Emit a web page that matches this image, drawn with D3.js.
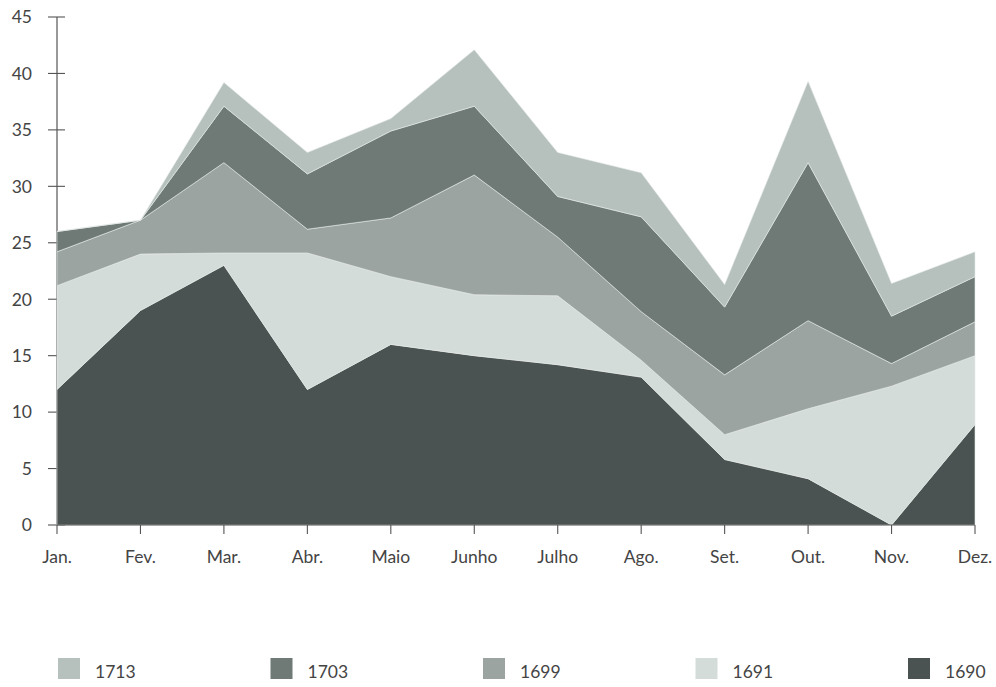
<!DOCTYPE html>
<html>
<head>
<meta charset="utf-8">
<script src="https://cdn.jsdelivr.net/npm/d3@7"></script>
<style>
  html, body { margin: 0; padding: 0; background: #ffffff; }
  svg { display: block; }
</style>
</head>
<body>
<svg id="chart" width="996" height="687"></svg>
<script>
// ---- data ----
const months = ["Jan.", "Fev.", "Mar.", "Abr.", "Maio", "Junho", "Julho", "Ago.", "Set.", "Out.", "Nov.", "Dez."];
const s1690 = [12, 19, 23, 12, 16, 15, 14.2, 13.1, 5.8, 4.1, 0, 8.9];
const s1691 = [9.2, 5, 1.1, 12.1, 6, 5.4, 6.1, 1.5, 2.2, 6.2, 12.3, 6.1];
const s1699 = [3, 3, 8, 2.1, 5.2, 10.6, 5.2, 4.3, 5.3, 7.8, 2, 3];
const s1703 = [1.8, 0, 5, 4.9, 7.7, 6.1, 3.6, 8.4, 6, 14, 4.2, 4];
const s1713 = [0, 0, 2.1, 1.9, 1.1, 5, 3.9, 3.9, 2, 7.2, 2.9, 2.2];
const seriesKeys = ["1690", "1691", "1699", "1703", "1713"];
const legendOrder = ["1713", "1703", "1699", "1691", "1690"];
const yTicks = [0, 5, 10, 15, 20, 25, 30, 35, 40, 45];
const colors = {
  "1690": "#4a5351",
  "1691": "#d4dcd9",
  "1699": "#9ba4a1",
  "1703": "#6f7a77",
  "1713": "#b6c0bd"
};

// ---- build table ----
const seriesVals = { "1690": s1690, "1691": s1691, "1699": s1699, "1703": s1703, "1713": s1713 };
const table = months.map((m, i) => {
  const row = { month: m };
  seriesKeys.forEach(k => row[k] = seriesVals[k][i]);
  return row;
});

const svg = d3.select("#chart");
const x = d3.scalePoint().domain(months).range([57, 975]);
const y = d3.scaleLinear().domain([0, 45]).range([525, 17]);

const textColor = "#444";
const font = "Lato, 'Open Sans', sans-serif";
const fs = 17.5;

// y axis
const yAxisG = svg.append("g").attr("transform", `translate(${x(months[0])},0)`);
yAxisG.append("line").attr("x1", 0).attr("x2", 0).attr("y1", y(45)).attr("y2", y(0))
  .attr("stroke", "#555").attr("stroke-width", 1.2);
yAxisG.selectAll("line.tick").data(yTicks).join("line").attr("class", "tick")
  .attr("x1", -9).attr("x2", 8).attr("y1", d => y(d)).attr("y2", d => y(d))
  .attr("stroke", "#555").attr("stroke-width", 1.1);
yAxisG.selectAll("text").data(yTicks).join("text")
  .attr("x", -25).attr("y", d => y(d)).attr("dy", "0.36em")
  .attr("text-anchor", "end")
  .attr("font-family", font).attr("font-size", fs).attr("fill", textColor)
  .text(d => d);

// stacked areas
const stack = d3.stack().keys(seriesKeys);
const layers = stack(table);
const area = d3.area()
  .x(d => x(d.data.month))
  .y0(d => y(d[0]))
  .y1(d => y(d[1]));
svg.append("g").selectAll("path").data(layers).join("path")
  .attr("d", area)
  .attr("fill", d => colors[d.key])
  .attr("stroke", "#e6ebe9").attr("stroke-width", 0.6).attr("stroke-linejoin", "round");

// x axis
const xAxisG = svg.append("g").attr("transform", `translate(0,${y(0)})`);
xAxisG.append("line").attr("x1", x(months[0])).attr("x2", x(months[months.length - 1]))
  .attr("y1", 0).attr("y2", 0).attr("stroke", "#555").attr("stroke-width", 1.2);
xAxisG.selectAll("line.tick").data(months).join("line").attr("class", "tick")
  .attr("x1", d => x(d)).attr("x2", d => x(d)).attr("y1", 0).attr("y2", 9)
  .attr("stroke", "#555").attr("stroke-width", 1.1);
xAxisG.selectAll("text").data(months).join("text")
  .attr("x", d => x(d)).attr("y", 32).attr("dy", "0.36em")
  .attr("text-anchor", "middle")
  .attr("font-family", font).attr("font-size", fs).attr("fill", textColor)
  .text(d => d);

// legend
const legendX = d3.scalePoint().domain(legendOrder).range([58, 908]);
const lg = svg.append("g").selectAll("g").data(legendOrder).join("g")
  .attr("transform", d => `translate(${legendX(d)},658)`);
lg.append("rect").attr("width", 22).attr("height", 21).attr("fill", d => colors[d]);
lg.append("text").attr("x", 37).attr("y", 14).attr("dy", "0.36em")
  .attr("font-family", font).attr("font-size", fs).attr("fill", textColor)
  .text(d => d);
</script>
</body>
</html>
